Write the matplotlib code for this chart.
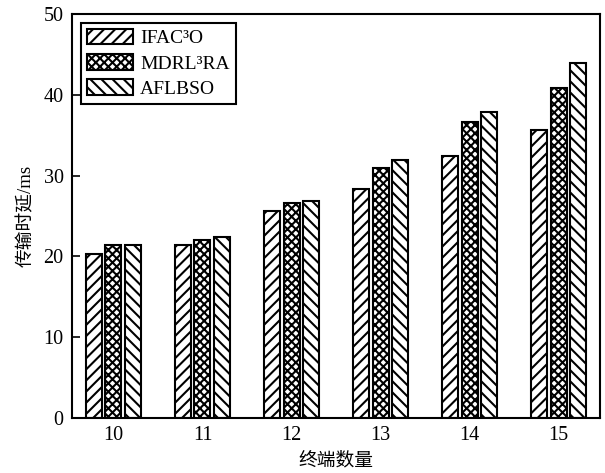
import numpy as np
import matplotlib.pyplot as plt

plt.rcParams['font.family'] = ['Liberation Serif', 'Noto Sans CJK SC']
plt.rcParams['hatch.linewidth'] = 1.5

terminals = [10, 11, 12, 13, 14, 15]
ifac3o = [20.3, 21.4, 25.6, 28.3, 32.5, 35.6]
mdrl3ra = [21.4, 22.0, 26.6, 31.0, 36.6, 40.9]
aflbso = [21.4, 22.4, 26.9, 31.9, 37.9, 44.0]

series = [('IFAC³O', ifac3o, '///'),
          ('MDRL³RA', mdrl3ra, 'xxxx'),
          ('AFLBSO', aflbso, '\\\\\\')]

fig = plt.figure(figsize=(6.05, 4.73), dpi=100)
ax = fig.add_axes([0.119, 0.1163, 0.873, 0.8537])

x = np.array(terminals, dtype=float)
w = 0.18
step = 0.217
for i, (name, vals, hatch) in enumerate(series):
    ax.bar(x + (i - 1) * step, vals, width=w, color='white', edgecolor='black',
           linewidth=1.5, hatch=hatch, label=name)

ax.set_xlim(9.535, 15.465)
ax.set_ylim(0, 50)
ax.set_xticks(terminals)
ax.set_yticks([0, 10, 20, 30, 40, 50])
ax.tick_params(axis='x', length=0, labelsize=14.5, pad=6)
ax.tick_params(axis='y', direction='in', length=6, width=1.2, labelsize=14.5, pad=6)
for s in ax.spines.values():
    s.set_linewidth(1.5)

ax.set_xlabel('终端数量', fontsize=13.5, labelpad=5)
ax.set_ylabel('传输时延/ms', fontsize=13.5, labelpad=6)

leg = ax.legend(loc='upper left', fontsize=14, frameon=True, fancybox=False,
                edgecolor='black', handlelength=2.4, handleheight=0.85,
                handletextpad=0.35, labelspacing=0.35, borderaxespad=0.45,
                borderpad=0.3)
leg.get_frame().set_linewidth(1.5)
leg.get_frame().set_alpha(1)

fig.savefig('out.png', dpi=100)
